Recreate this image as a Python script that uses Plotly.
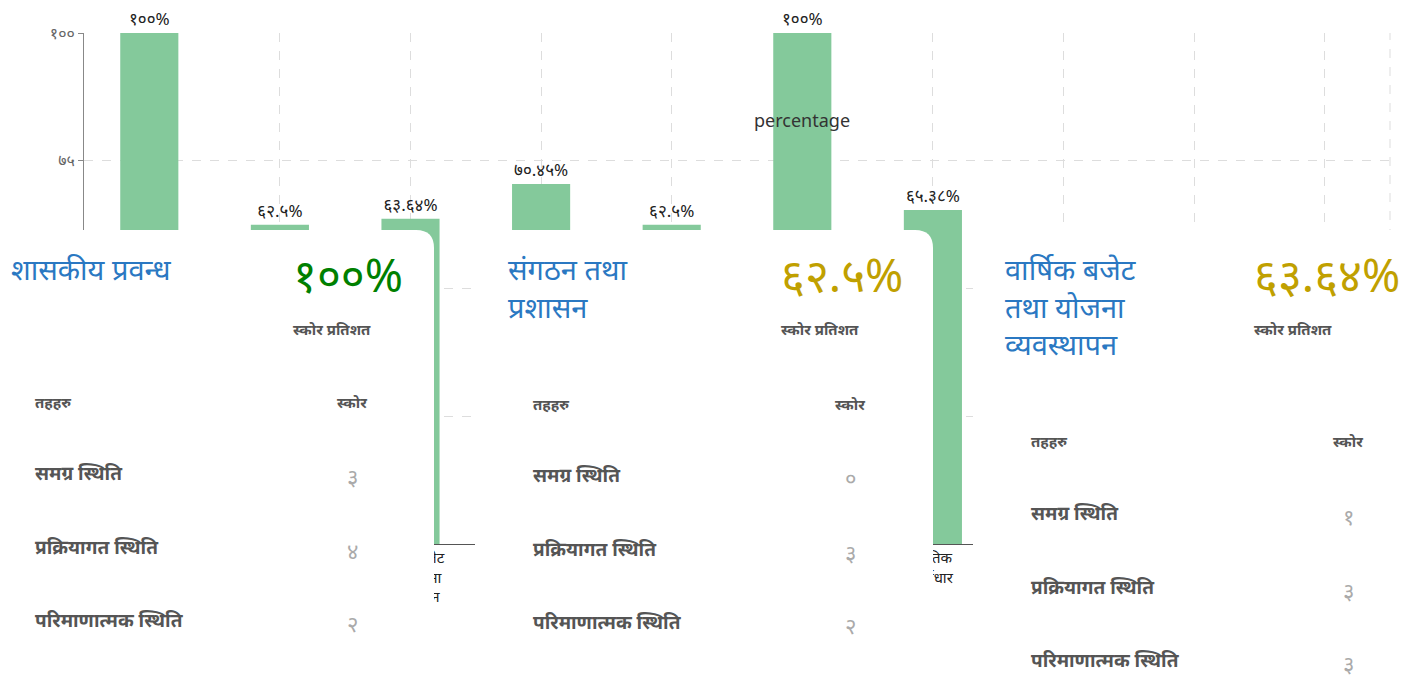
import plotly.graph_objects as go

# ---------------- data ----------------
categories = [
    "शासकीय प्रवन्ध",
    "संगठन तथा<br>प्रशासन",
    "वार्षिक बजेट<br>तथा योजना<br>व्यवस्थापन",
    "वित्तीय<br>व्यवस्थापन",
    "सेवा प्रवाह",
    "न्यायिक<br>कार्यसम्पादन",
    "भौतिक<br>पूर्वाधार",
    "सामाजिक<br>समावेशीकरण",
    "वातावरण<br>संरक्षण",
    "सहकार्य र<br>समन्वय",
]
percentages = [100, 62.5, 63.64, 70.45, 62.5, 100, 65.38, None, None, None]

y_tickvals = [0, 25, 50, 75, 100]
y_ticktext = ["०", "२५", "५०", "७५", "१००"]

card_titles = ["शासकीय प्रवन्ध", "संगठन तथा<br>प्रशासन", "वार्षिक बजेट<br>तथा योजना<br>व्यवस्थापन"]
card_percent = ["१००%", "६२.५%", "६३.६४%"]
card_percent_colors = ["#008000", "#c0a000", "#c0a000"]
row_labels = ["समग्र स्थिति", "प्रक्रियागत स्थिति", "परिमाणात्मक स्थिति"]
card_scores = [["३", "४", "२"], ["०", "३", "२"], ["१", "३", "३"]]

DEV = str.maketrans("0123456789", "०१२३४५६७८९")


def dev_label(v):
    if v is None:
        return ""
    return (f"{v:g}" + "%").translate(DEV)


bar_text = [dev_label(v) for v in percentages]

# ---------------- geometry helpers (screen pixel -> paper) ----------------
W, H = 1412, 679
OFF = 8                      # page body margin
PL, PR, PT, PB = 84, 1390, 33, 544   # plot area in screen pixels


def px(x):
    return (x - PL) / (PR - PL)


def py(y):
    return (PB - y) / (PB - PT)


FONT = "Noto Sans, sans-serif"

fig = go.Figure()
fig.add_trace(go.Bar(
    x=list(range(len(categories))),
    y=percentages,
    text=bar_text,
    textposition="outside",
    cliponaxis=False,
    textfont=dict(size=17, color="#222222", family=FONT),
    marker=dict(color="#84c99b", line=dict(width=0)),
    width=0.445,
    hoverinfo="skip",
))

shapes = []
shapes.append(dict(type="line", xref="paper", yref="paper", x0=1, x1=1, y0=0, y1=1,
                   line=dict(color="#dddddd", width=1, dash="dash"), layer="below"))

card_left = [-24, 475, 973]
card_w = 458
top, bottom, r = 230, 720, 18
for L in card_left:
    R = L + card_w
    path = (
        f"M {px(L + r)},{py(top)} L {px(R - r)},{py(top)} "
        f"Q {px(R)},{py(top)} {px(R)},{py(top + r)} "
        f"L {px(R)},{py(bottom)} L {px(L)},{py(bottom)} L {px(L)},{py(top + r)} "
        f"Q {px(L)},{py(top)} {px(L + r)},{py(top)} Z"
    )
    shapes.append(dict(type="path", xref="paper", yref="paper", path=path,
                       fillcolor="white", line=dict(width=0), layer="above"))

ann = []
ann.append(dict(text="percentage", x=px(802), y=py(120), xref="paper", yref="paper",
                xanchor="center", yanchor="middle",
                showarrow=False, font=dict(size=18, color="#333333", family=FONT)))

offsets = [0, 498, 996]
title_x = [9, 506, 1003]
header_y = [402, 404, 441]
row_ys = [[473, 547, 620], [475, 549, 622], [513, 587, 660]]
pct_left = [291, 779, 1252]
for i, off in enumerate(offsets):
    ann.append(dict(text=card_titles[i], x=px(title_x[i]), y=py(247), xref="paper", yref="paper",
                    xanchor="left", yanchor="top", align="left", showarrow=False,
                    font=dict(size=29, color="#2a78c2", family=FONT)))
    ann.append(dict(text=card_percent[i], x=px(pct_left[i]), y=py(274), xref="paper", yref="paper",
                    xanchor="left", yanchor="middle", showarrow=False,
                    font=dict(size=46, color=card_percent_colors[i], family=FONT)))
    ann.append(dict(text="<b>स्कोर प्रतिशत</b>", x=px(pct_left[i]), y=py(329), xref="paper", yref="paper",
                    xanchor="left", yanchor="middle", showarrow=False,
                    font=dict(size=15, color="#555555", family=FONT)))
    ann.append(dict(text="<b>तहहरु</b>", x=px(33 + off), y=py(header_y[i]), xref="paper", yref="paper",
                    xanchor="left", yanchor="middle", showarrow=False,
                    font=dict(size=15, color="#555555", family=FONT)))
    ann.append(dict(text="<b>स्कोर</b>", x=px(352 + off), y=py(header_y[i]), xref="paper", yref="paper",
                    xanchor="center", yanchor="middle", showarrow=False,
                    font=dict(size=15, color="#555555", family=FONT)))
    for j, lab in enumerate(row_labels):
        ann.append(dict(text=f"<b>{lab}</b>", x=px(33 + off), y=py(row_ys[i][j]), xref="paper", yref="paper",
                        xanchor="left", yanchor="middle", showarrow=False,
                        font=dict(size=19, color="#555555", family=FONT)))
        ann.append(dict(text=card_scores[i][j], x=px(352 + off), y=py(row_ys[i][j] + 3), xref="paper", yref="paper",
                        xanchor="center", yanchor="middle", showarrow=False,
                        font=dict(size=22, color="#aaaaaa", family=FONT)))

fig.update_layout(
    width=W, height=H, autosize=False,
    margin=dict(l=PL - OFF, r=W - (PR - OFF), t=PT - OFF, b=H - (PB - OFF), pad=0),
    paper_bgcolor="white", plot_bgcolor="white",
    showlegend=False,
    font=dict(family=FONT, color="#222222"),
    shapes=shapes,
    annotations=ann,
    xaxis=dict(
        tickmode="array", tickvals=list(range(len(categories))), ticktext=categories,
        range=[-0.5, len(categories) - 0.5],
        showgrid=True, gridcolor="#dddddd", griddash="dash", gridwidth=1,
        showline=True, linecolor="#555555", linewidth=1,
        ticks="", tickfont=dict(size=15, color="#222222", family=FONT),
        tickangle=0, zeroline=False,
    ),
    yaxis=dict(
        range=[0, 100], tickmode="array", tickvals=y_tickvals, ticktext=y_ticktext,
        showgrid=True, gridcolor="#dddddd", griddash="dash", gridwidth=1,
        showline=True, linecolor="#888888", linewidth=1,
        ticks="outside", ticklen=5, tickcolor="#888888",
        tickfont=dict(size=16, color="#666666", family=FONT),
        zeroline=False,
    ),
)

fig.write_html("out.html")
